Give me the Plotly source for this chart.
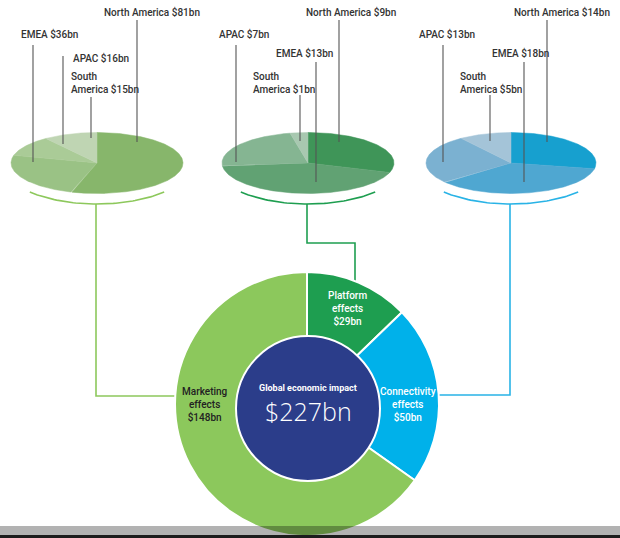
import numpy as np
import plotly.graph_objects as go

# ---------------- data ----------------
effects = ["Platform effects", "Connectivity effects", "Marketing effects"]
effect_values = [29, 50, 148]
total_impact = 227

regions_marketing = ["North America", "EMEA", "APAC", "South America"]
values_marketing = [81, 36, 16, 15]
regions_platform = ["North America", "EMEA", "APAC", "South America"]
values_platform = [9, 13, 7, 1]
regions_connectivity = ["North America", "EMEA", "APAC", "South America"]
values_connectivity = [14, 18, 13, 5]

# ---------------- styles / layout ----------------
W, H = 620, 538
FONT = "Roboto"
effect_colors = ["#1e9e50", "#00b1ea", "#8cc85c"]
marketing_colors = ["#87b66b", "#9ac285", "#aacb97", "#bfd5b3"]
platform_colors = ["#3f9558", "#61a273", "#85b592", "#a8c8b0"]
connect_colors = ["#17a0cf", "#4fa7d1", "#7bb1d1", "#a4c4d8"]
arc_colors = ["#8dc85c", "#1e9e50", "#29b3e6"]

pies = [
    dict(regions=regions_marketing, values=values_marketing, colors=marketing_colors,
         cx=97, cy=163, rx=86, ry=30.5, arc=arc_colors[0],
         labels={"North America": (102, 12, 137, 20, 142),
                 "EMEA": (19, 34, 33, 45, 162),
                 "APAC": (71, 58, 63, 56, 144),
                 "South America": (69, 83, 91, 97, 138)}),
    dict(regions=regions_platform, values=values_platform, colors=platform_colors,
         cx=308, cy=163, rx=86, ry=30.5, arc=arc_colors[1],
         labels={"North America": (304, 12, 339, 20, 142),
                 "APAC": (217, 34, 236, 45, 162),
                 "EMEA": (274, 53, 316, 62, 182),
                 "South America": (251, 83, 300, 95, 141)}),
    dict(regions=regions_connectivity, values=values_connectivity, colors=connect_colors,
         cx=511, cy=163, rx=85, ry=30.5, arc=arc_colors[2],
         labels={"North America": (512, 12, 547, 20, 142),
                 "APAC": (417, 34, 443, 45, 162),
                 "EMEA": (490, 53, 524, 62, 182),
                 "South America": (458, 83, 490, 95, 141)}),
]

connectors = [
    ([96, 96, 180], [204, 396, 396], arc_colors[0]),
    ([307, 307, 355, 355], [204, 243, 243, 290], arc_colors[1]),
    ([510, 510, 435], [204, 395, 395], arc_colors[2]),
]

fig = go.Figure()

def ell(cx, cy, rx, ry, th):
    th = np.radians(th)
    return cx + rx * np.sin(th), cy - ry * np.cos(th)

annotations = []
for p in pies:
    tot = sum(p["values"])
    start = 0.0
    for reg, val, col in zip(p["regions"], p["values"], p["colors"]):
        end = start + 360.0 * val / tot
        th = np.linspace(start, end, max(int(end - start) * 2, 4))
        ex, ey = ell(p["cx"], p["cy"], p["rx"], p["ry"], th)
        xs = np.concatenate([[p["cx"]], ex, [p["cx"]]])
        ys = np.concatenate([[p["cy"]], ey, [p["cy"]]])
        fig.add_trace(go.Scatter(x=xs, y=ys, mode="lines", fill="toself",
                                 fillcolor=col, line=dict(color=col, width=0.5),
                                 hoverinfo="text", text=f"{reg} ${val}bn"))
        start = end
    # arc under the ellipse
    th = np.linspace(135, 225, 60)
    ax_, ay_ = ell(p["cx"], p["cy"], 95, 41, th)
    fig.add_trace(go.Scatter(x=ax_, y=ay_, mode="lines",
                             line=dict(color=p["arc"], width=1.6), hoverinfo="skip"))
    # labels & leader lines
    for reg, val in zip(p["regions"], p["values"]):
        tx, ty, lx, ly0, ly1 = p["labels"][reg]
        fig.add_trace(go.Scatter(x=[lx, lx], y=[ly0, ly1], mode="lines",
                                 line=dict(color="#555555", width=1.1), hoverinfo="skip"))
        if reg == "South America":
            txt = f"South<br>America ${val}bn"
        else:
            txt = f"{reg} ${val}bn"
        annotations.append(dict(x=tx, y=ty, xref="x", yref="y", text=txt, align="left",
                                showarrow=False, xanchor="left", yanchor="middle",
                                font=dict(family=FONT, size=10, color="#333333", weight=500)))

for xs, ys, col in connectors:
    fig.add_trace(go.Scatter(x=xs, y=ys, mode="lines", line=dict(color=col, width=1.6),
                             hoverinfo="skip"))

# main donut
cx, cy, R = 307, 404, 132
fig.add_trace(go.Pie(values=effect_values, labels=effects, sort=False,
                     direction="clockwise", rotation=0, hole=0.4,
                     marker=dict(colors=effect_colors, line=dict(color="white", width=2)),
                     textinfo="none", hoverinfo="label+value",
                     domain=dict(x=[(cx - R) / W, (cx + R) / W],
                                 y=[(H - cy - R) / H, (H - cy + R) / H])))

shapes = [
    dict(type="circle", xref="x", yref="y", x0=236, x1=380, y0=336, y1=481,
         fillcolor="#2b3d8a", line=dict(color="white", width=2), layer="above"),
    dict(type="rect", xref="x", yref="y", x0=0, x1=W, y0=526, y1=535,
         fillcolor="rgba(0,0,0,0.3)", line=dict(width=0), layer="above"),
    dict(type="rect", xref="x", yref="y", x0=0, x1=W, y0=535, y1=H,
         fillcolor="#1c1c1c", line=dict(width=0), layer="above"),
]

# donut labels
label_pos = {"Platform effects": (347, 308, "white"),
             "Connectivity effects": (408, 404, "white"),
             "Marketing effects": (205, 404, "#222222")}
for name, val in zip(effects, effect_values):
    x, y, c = label_pos[name]
    first, second = name.split(" ")
    annotations.append(dict(x=x, y=y, xref="x", yref="y",
                            text=f"{first}<br>{second}<br>${val}bn",
                            showarrow=False, xanchor="center", yanchor="middle",
                            font=dict(family=FONT, size=10, color=c, weight=500)))

annotations.append(dict(x=308, y=388, xref="x", yref="y", text="Global economic impact",
                        showarrow=False, font=dict(family=FONT, size=9, color="white", weight=700)))
annotations.append(dict(x=308, y=411, xref="x", yref="y", text=f"${total_impact}bn",
                        showarrow=False, font=dict(family="Open Sans", size=25, color="white", weight=300)))

fig.update_layout(
    width=W, height=H, margin=dict(l=0, r=0, t=0, b=0),
    paper_bgcolor="white", plot_bgcolor="white", showlegend=False,
    xaxis=dict(range=[0, W], visible=False, fixedrange=True),
    yaxis=dict(range=[H, 0], visible=False, fixedrange=True),
    shapes=shapes, annotations=annotations,
)

fig.write_html("out.html", config={"displayModeBar": False},
               post_script="document.body.style.margin='0';document.body.style.padding='0';")
